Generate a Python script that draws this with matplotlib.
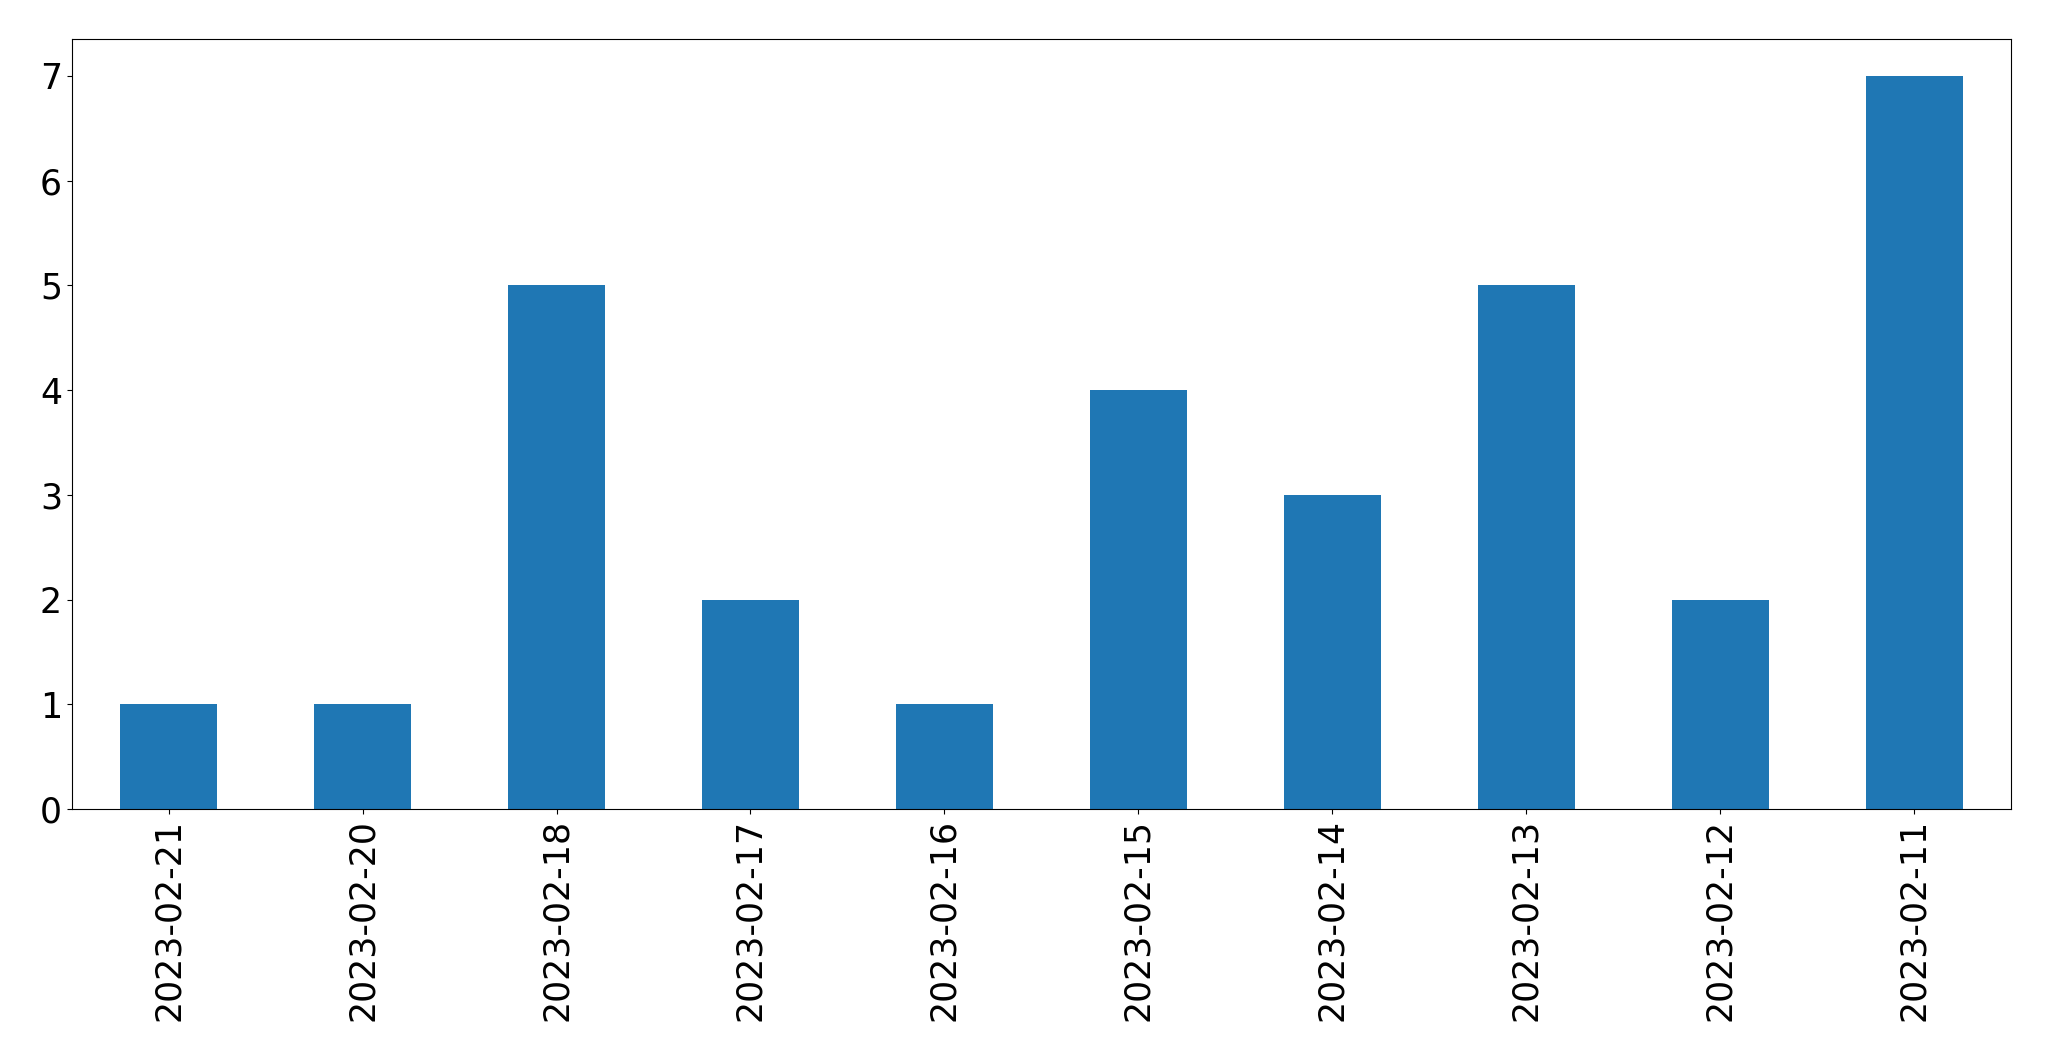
import matplotlib
matplotlib.use("Agg")
import matplotlib.pyplot as plt
import pandas as pd

dates = ['2023-02-21', '2023-02-20', '2023-02-18', '2023-02-17', '2023-02-16',
         '2023-02-15', '2023-02-14', '2023-02-13', '2023-02-12', '2023-02-11']
counts = [1, 1, 5, 2, 1, 4, 3, 5, 2, 7]

series = pd.Series(counts, index=dates)

fig = plt.figure(figsize=(20.49, 10.61), dpi=100)
ax = fig.add_axes([0.035, 0.2375, 0.9465, 0.7255])
series.plot(kind='bar', ax=ax, color='#1f77b4')
ax.tick_params(axis='both', labelsize=25)
ax.set_xlabel('')
fig.savefig('out.png', dpi=100)
